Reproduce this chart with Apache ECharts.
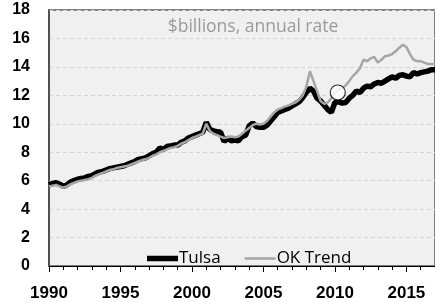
<!DOCTYPE html>
<html>
<head>
<meta charset="utf-8">
<script src="https://cdn.jsdelivr.net/npm/echarts@6/dist/echarts.min.js"></script>
<style>
  html, body { margin: 0; padding: 0; background: #fff; }
  #chart { width: 435px; height: 302px; }
</style>
</head>
<body>
<div id="chart"></div>
<script>
// quarterly values, starting 1990 Q1, $billions annual rate
const startYear = 1990;
const tulsa = [
  5.7, 5.8, 5.85, 5.75,
  5.6, 5.7, 5.9, 6.0,
  6.1, 6.15, 6.2, 6.3,
  6.35, 6.5, 6.6, 6.65,
  6.75, 6.85, 6.9, 6.95,
  7.0, 7.05, 7.15, 7.25,
  7.35, 7.5, 7.55, 7.6,
  7.75, 7.9, 8.0, 8.3,
  8.2, 8.4, 8.45, 8.5,
  8.5, 8.7, 8.8, 9.0,
  9.1, 9.2, 9.3, 9.4,
  10.1, 9.6, 9.5, 9.45,
  9.4, 8.75, 9.0, 8.8,
  8.85, 8.8, 9.1, 9.2,
  9.85, 10.05, 9.8, 9.75,
  9.75, 9.9, 10.2, 10.5,
  10.8, 10.9, 11.0, 11.1,
  11.25, 11.4, 11.55, 11.85,
  12.2, 12.5, 12.3, 11.8,
  11.6, 11.3, 11.0, 10.8,
  11.5, 11.55, 11.45, 11.5,
  11.8, 12.0, 12.3, 12.2,
  12.5, 12.65, 12.6, 12.8,
  12.9, 12.85, 13.0, 13.15,
  13.3, 13.2, 13.4, 13.45,
  13.35, 13.3, 13.6, 13.5,
  13.6, 13.65, 13.7, 13.8,
  13.8
];
const okTrend = [
  5.6, 5.65, 5.7, 5.6,
  5.5, 5.6, 5.75, 5.85,
  5.95, 6.0, 6.05, 6.1,
  6.2, 6.35, 6.45, 6.55,
  6.65, 6.75, 6.8, 6.9,
  6.95, 7.0, 7.05, 7.15,
  7.25, 7.35, 7.45, 7.5,
  7.6, 7.75, 7.85, 8.0,
  8.1, 8.2, 8.3, 8.35,
  8.45, 8.6, 8.7, 8.85,
  9.0, 9.1, 9.2, 9.3,
  10.0, 9.5, 9.3, 9.2,
  9.1, 9.0, 9.05, 9.1,
  9.05, 9.1, 9.3, 9.5,
  9.7, 9.9, 10.0, 9.95,
  10.0, 10.2, 10.5, 10.8,
  11.0, 11.1, 11.2, 11.3,
  11.4, 11.5, 11.7, 12.0,
  12.6, 13.7, 13.0, 12.3,
  11.6, 11.4, 11.5, 11.8,
  12.2, 12.4, 12.5, 12.7,
  13.0, 13.35, 13.6, 13.9,
  14.5, 14.4, 14.6, 14.7,
  14.3, 14.5, 14.75, 14.8,
  14.9, 15.1, 15.35, 15.55,
  15.4, 14.9, 14.5, 14.4,
  14.4, 14.3, 14.2, 14.2,
  14.2
];
const highlight = [2010.2, 12.2];

const toPairs = arr => arr.map((v, i) => [startYear + i / 4, v]);

const chart = echarts.init(document.getElementById('chart'));
chart.setOption({
  animation: false,
  title: {
    text: '$billions, annual rate',
    left: 248, top: 13, textAlign: 'center',
    textStyle: { fontFamily: 'Open Sans', fontSize: 17.5, fontWeight: 'normal', color: '#9a9a9a' }
  },
  grid: {
    left: 49, top: 10, right: -1, bottom: 34,
    show: true, backgroundColor: '#f0f0f0',
    borderColor: '#595959', borderWidth: 1.5
  },
  legend: {
    left: 142, top: 245,
    itemWidth: 31, itemHeight: 14, itemGap: 24,
    data: [
      { name: 'Tulsa', icon: 'path://M0,0 L62,0 L62,11 L0,11 Z' },
      { name: 'OK Trend', icon: 'path://M0,0 L62,0 L62,5 L0,5 Z' }
    ],
    textStyle: { fontFamily: 'Open Sans', fontSize: 17, color: '#000', padding: [0, 0, 0, -4] }
  },
  xAxis: {
    type: 'value', min: 1990, max: 2017, interval: 5,
    axisLine: { lineStyle: { color: '#000', width: 1 } },
    axisTick: { length: 6, lineStyle: { color: '#000' } },
    minorTick: { show: true, splitNumber: 5, length: 4, lineStyle: { color: '#000' } },
    splitLine: { show: false },
    axisLabel: {
      showMaxLabel: false, margin: 19,
      formatter: v => String(v),
      fontFamily: 'Liberation Sans', fontSize: 17, fontWeight: 'bold', color: '#000'
    }
  },
  yAxis: {
    type: 'value', min: 0, max: 18, interval: 2,
    axisLine: { show: true, lineStyle: { color: '#404040', width: 1.5 } },
    axisTick: { show: false },
    splitLine: { lineStyle: { color: '#d4d4d4', type: [4, 3], width: 1 } },
    axisLabel: {
      margin: 19,
      fontFamily: 'Liberation Sans', fontSize: 16, fontWeight: 'bold', color: '#000'
    }
  },
  series: [
    {
      name: 'Tulsa', type: 'line', data: toPairs(tulsa),
      symbol: 'none', color: '#000',
      lineStyle: { width: 5.5, color: '#000' }
    },
    {
      name: 'OK Trend', type: 'line', data: toPairs(okTrend),
      symbol: 'none', color: '#a6a6a6',
      lineStyle: { width: 2.5, color: '#a6a6a6' }
    },
    {
      name: 'marker', type: 'scatter', data: [highlight],
      symbolSize: 15, z: 5,
      itemStyle: { color: '#fff', borderColor: '#000', borderWidth: 1.2 }
    }
  ]
});
</script>
</body>
</html>
